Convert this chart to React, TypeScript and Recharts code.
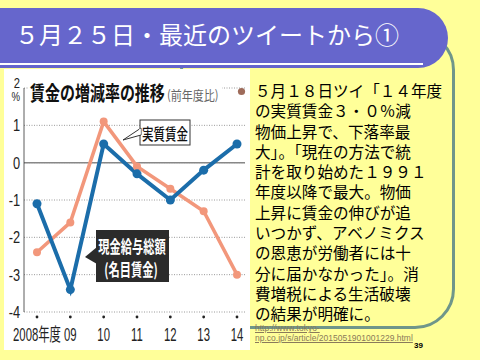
import React from 'react';
import {
  LineChart,
  Line,
  XAxis,
  YAxis,
  CartesianGrid,
  ReferenceLine,
} from 'recharts';

const years = ['2008年度', '09', '10', '11', '12', '13', '14'];
const nominalWage = [-1.1, -3.4, 0.5, -0.3, -1.0, -0.2, 0.5];
const realWage = [-2.4, -1.6, 1.1, -0.1, -0.7, -1.3, -3.0];
const yTicks = [2, 1, 0, -1, -2, -3, -4];

const bodyLines = [
  '５月１８日ツイ「１４年度',
  'の実質賃金３・０％減',
  '物価上昇で、下落率最',
  '大」。「現在の方法で統',
  '計を取り始めた１９９１',
  '年度以降で最大。物価',
  '上昇に賃金の伸びが追',
  'いつかず、アベノミクス',
  'の恩恵が労働者には十',
  '分に届かなかった」。消',
  '費増税による生活破壊',
  'の結果が明確に。',
];

const data = years.map((y, i) => ({ year: y, nominal: nominalWage[i], real: realWage[i] }));

const jp = '"Noto Sans CJK JP", "Noto Sans", sans-serif';
const narrow = '"Liberation Sans", "Noto Sans CJK JP", sans-serif';

const YTick = ({ x, y, payload }: any) => {
  if (payload.value === 2) {
    return (
      <g transform={`translate(${x},${y})`}>
        <text transform="scale(0.8,1)" y={0} textAnchor="end" fontSize={14} fill="#222" fontFamily={narrow}>2</text>
        <text transform="scale(0.8,1)" y={13} textAnchor="end" fontSize={12} fill="#222" fontFamily={narrow}>%</text>
      </g>
    );
  }
  return (
    <g transform={`translate(${x},${y})`}>
      <text transform="scale(0.8,1)" y={6} textAnchor="end" fontSize={16} fill="#222" fontFamily={narrow}>
        {payload.value}
      </text>
    </g>
  );
};

const XTick = ({ x, y, payload }: any) => (
  <g transform={`translate(${x},${y})`}>
    <circle cx={0} cy={5} r={1.4} fill="#222" />
    <text transform="scale(0.63,1)" y={29} textAnchor="middle" fontSize={18} fill="#222" fontFamily={narrow}>
      {payload.value}
    </text>
  </g>
);

const WageChart = () => (
  <LineChart width={246} height={281} data={data} margin={{ top: 19, right: 5, bottom: 8, left: 0 }}>
    <CartesianGrid vertical={false} stroke="#9a9a9a" strokeDasharray="1 1.5" />
    <XAxis
      dataKey="year"
      axisLine={false}
      tickLine={false}
      tickSize={0}
      tickMargin={0}
      height={30}
      interval={0}
      padding={{ left: 13, right: 8 }}
      tick={<XTick />}
    />
    <YAxis
      domain={[-4, 2]}
      ticks={yTicks}
      width={20}
      tickSize={0}
      tickMargin={4}
      tickLine={false}
      axisLine={{ stroke: '#333', strokeWidth: 0.8 }}
      tick={<YTick />}
      interval={0}
    />
    <ReferenceLine y={0} stroke="#888" strokeWidth={1.5} />
    <Line
      dataKey="real"
      stroke="#F2977B"
      strokeWidth={3.5}
      dot={{ r: 4, fill: '#F2977B', stroke: 'none' }}
      isAnimationActive={false}
    />
    <Line
      dataKey="nominal"
      stroke="#1B6DAA"
      strokeWidth={4}
      dot={{ r: 4.5, fill: '#1B6DAA', stroke: 'none' }}
      isAnimationActive={false}
    />
  </LineChart>
);

const App = () => (
  <div style={{ position: 'fixed', left: 0, top: 0, width: 480, height: 360, background: '#FFFF99', overflow: 'hidden' }}>
    {/* rounded text frame */}
    <div style={{ position: 'absolute', left: 180, top: 30, width: 275, height: 299, boxSizing: 'border-box', border: '3px solid #6F968A', borderRadius: 40 }} />
    {/* title banner */}
    <div style={{ position: 'absolute', left: 0, top: 8, width: 448, height: 60, background: '#6666CC', borderRadius: '0 30px 30px 0' }} />
    <div style={{ position: 'absolute', left: 0, top: 63, width: 423, height: 2, background: '#fff' }} />
    <div style={{ position: 'absolute', left: 15, top: 18, lineHeight: '32px', fontSize: 24, color: '#fff', fontFamily: jp, whiteSpace: 'nowrap' }}>
      ５月２５日・最近のツイートから①
    </div>

    {/* chart panel */}
    <div style={{ position: 'absolute', left: 4, top: 69, width: 246, height: 281, background: '#fff' }}>
      <WageChart />
    </div>

    <svg width={480} height={360} style={{ position: 'absolute', left: 0, top: 0, pointerEvents: 'none' }}>
      {/* chart heading */}
      <rect x={28} y={80} width={194} height={25} fill="#fff" />
      <text transform="translate(30,101) scale(0.75,1)" fontSize={20} fontWeight={700} fill="#111" fontFamily={jp}>
        賃金の増減率の推移
      </text>
      <text transform="translate(167,100) scale(0.85,1)" fontSize={13} fill="#666" fontFamily={jp}>
        (前年度比)
      </text>

      {/* real wage callout */}
      <rect x={140} y={120} width={50} height={25} fill="#fff" stroke="#333" strokeWidth={1} />
      <polygon points="141,128 123,140 141,135" fill="#fff" stroke="#333" strokeWidth={1} />
      <line x1={140} y1={128.8} x2={140} y2={134.4} stroke="#fff" strokeWidth={1.5} />
      <text transform="translate(165,133) scale(0.72,1)" textAnchor="middle" dominantBaseline="central" fontSize={16} fontWeight={500} fill="#111" fontFamily={jp}>
        実質賃金
      </text>

      {/* nominal wage callout */}
      <rect x={96} y={230} width={73} height={52} fill="#2b2b2b" />
      <polygon points="97,247 85,257 97,264" fill="#2b2b2b" />
      <text transform="translate(132,245) scale(0.66,1)" textAnchor="middle" dominantBaseline="central" fontSize={17} fontWeight={700} fill="#fff" fontFamily={jp}>
        現金給与総額
      </text>
      <text transform="translate(131,268) scale(0.66,1)" textAnchor="middle" dominantBaseline="central" fontSize={17} fontWeight={700} fill="#fff" fontFamily={jp}>
        (名目賃金)
      </text>

      {/* bullet */}
      <circle cx={241.5} cy={91.5} r={3.6} fill="#9E6B5A" />
    </svg>

    <div style={{ position: 'absolute', left: 255, top: 80, fontSize: 15.6, lineHeight: '20.3px', color: '#000', fontFamily: jp, whiteSpace: 'nowrap' }}>
      {bodyLines.map((l, i) => (
        <div key={i}>{l}</div>
      ))}
    </div>

    <div style={{ position: 'absolute', left: 255, top: 324, fontSize: 8.5, lineHeight: '9.5px', color: '#8A7A5A', fontFamily: '"Liberation Sans", sans-serif', textDecoration: 'underline', whiteSpace: 'nowrap' }}>
      <div>http://www.tokyo-</div>
      <div>np.co.jp/s/article/2015051901001229.html</div>
    </div>
    <div style={{ position: 'absolute', left: 414, top: 341, fontSize: 8, fontWeight: 700, color: '#000', fontFamily: '"Liberation Sans", sans-serif' }}>
      39
    </div>
  </div>
);

export default App;
